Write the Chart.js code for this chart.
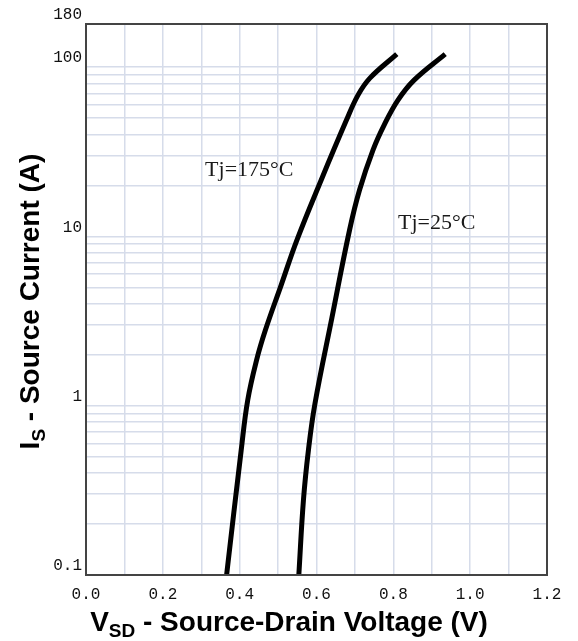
<!DOCTYPE html>
<html>
<head>
<title>Source-Drain Diode</title>
<style>
  body { margin: 0; background: #fff; }
  #wrap { width: 578px; height: 641px; }
</style>
</head>
<body>
<div id="wrap"><canvas id="diodeChart" width="578" height="641"></canvas></div>
<script src="https://cdn.jsdelivr.net/npm/chart.js"></script>
<script>
// curve: Tj = 175 C
const vsd175 = [0.366, 0.404, 0.421, 0.444, 0.467, 0.508, 0.549, 0.612, 0.678, 0.708, 0.739, 0.809];
const is175  = [0.1, 0.547, 1.08, 1.86, 2.80, 5.16, 9.52, 21.5, 48.7, 68.4, 86.2, 119.5];
// Tj = 25 C
const vsd25 = [0.554, 0.566, 0.579, 0.596, 0.640, 0.686, 0.712, 0.747, 0.776, 0.812, 0.854, 0.935];
const is25  = [0.1, 0.277, 0.547, 1.03, 3.30, 10.9, 18.8, 32.4, 45.5, 63.9, 83.9, 119.5];

const yTickValues = [0.1, 0.2, 0.3, 0.4, 0.5, 0.6, 0.7, 0.8, 0.9,
                     1, 2, 3, 4, 5, 6, 7, 8, 9,
                     10, 20, 30, 40, 50, 60, 70, 80, 90, 100, 180];
const yLabels = [0.1, 1, 10, 100, 180];

const curveLabels = [
  { text: 'Tj=175°C', v: 0.31, i: 22.7 },
  { text: 'Tj=25°C', v: 0.812, i: 11.1 }
];

function toPoints(xs, ys) {
  return xs.map((x, k) => ({ x: x, y: ys[k] }));
}

const gridColor = '#d6dcea';
const frameColor = '#444444';

// frame, curve labels and the two axis titles (they need subscripts)
const extras = {
  id: 'extras',
  afterDatasetsDraw(chart) {
    const ctx = chart.ctx;
    const a = chart.chartArea;
    const sx = chart.scales.x, sy = chart.scales.y;
    ctx.save();
    ctx.strokeStyle = frameColor;
    ctx.lineWidth = 2;
    ctx.strokeRect(a.left, a.top, a.right - a.left, a.bottom - a.top);

    ctx.fillStyle = '#1a1a1a';
    ctx.font = '22px "Liberation Serif"';
    ctx.textBaseline = 'alphabetic';
    ctx.textAlign = 'left';
    curveLabels.forEach(l => {
      ctx.fillText(l.text, sx.getPixelForValue(l.v), sy.getPixelForValue(l.i));
    });

    ctx.fillStyle = '#000';
    // x title
    const big = 'bold 28px "Liberation Sans"';
    const small = 'bold 19px "Liberation Sans"';
    ctx.font = big;
    const w1 = ctx.measureText('V').width;
    const w3 = ctx.measureText(' - Source-Drain Voltage (V)').width;
    ctx.font = small;
    const w2 = ctx.measureText('SD').width;
    let x0 = chart.width / 2 - (w1 + w2 + w3) / 2;
    const base = 631;
    ctx.font = big; ctx.fillText('V', x0, base);
    ctx.font = small; ctx.fillText('SD', x0 + w1, base + 6);
    ctx.font = big; ctx.fillText(' - Source-Drain Voltage (V)', x0 + w1 + w2, base);

    // y title
    ctx.translate(39, (a.top + a.bottom) / 2 + 2);
    ctx.rotate(-Math.PI / 2);
    ctx.font = big;
    const u1 = ctx.measureText('I').width;
    const u3 = ctx.measureText(' - Source Current (A)').width;
    ctx.font = small;
    const u2 = ctx.measureText('S').width;
    x0 = -(u1 + u2 + u3) / 2;
    ctx.font = big; ctx.fillText('I', x0, 0);
    ctx.font = small; ctx.fillText('S', x0 + u1, 6);
    ctx.font = big; ctx.fillText(' - Source Current (A)', x0 + u1 + u2, 0);
    ctx.restore();
  }
};

new Chart(document.getElementById('diodeChart'), {
  type: 'scatter',
  data: {
    datasets: [{
      label: 'Tj=175°C',
      data: toPoints(vsd175, is175),
      showLine: true,
      borderColor: '#000',
      borderWidth: 5,
      pointRadius: 0,
      tension: 0.4
    }, {
      label: 'Tj=25°C',
      data: toPoints(vsd25, is25),
      showLine: true,
      borderColor: '#000',
      borderWidth: 5,
      pointRadius: 0,
      tension: 0.4
    }]
  },
  options: {
    responsive: false,
    animation: false,
    layout: { padding: { left: 0, right: 31, top: 24, bottom: 0 } },
    plugins: {
      legend: { display: false },
      tooltip: { enabled: false }
    },
    scales: {
      x: {
        type: 'linear',
        min: 0,
        max: 1.2,
        afterFit: s => { s.height = 66; },
        grid: { color: gridColor, lineWidth: 1.5, drawTicks: false },
        border: { color: frameColor, width: 2 },
        ticks: {
          stepSize: 0.1,
          autoSkip: false,
          maxRotation: 0,
          padding: 10,
          color: '#111',
          font: { family: '"Liberation Mono"', size: 16 },
          callback: v => (Math.round(v * 10) % 2 === 0 ? v.toFixed(1) : '')
        }
      },
      y: {
        type: 'logarithmic',
        min: 0.1,
        max: 180,
        afterFit: s => { s.width = 86; },
        afterBuildTicks: s => { s.ticks = yTickValues.map(v => ({ value: v })); },
        grid: { color: gridColor, lineWidth: 1.5, drawTicks: false },
        border: { color: frameColor, width: 2 },
        ticks: {
          autoSkip: false,
          padding: 4,
          labelOffset: -9,
          color: '#111',
          font: { family: '"Liberation Mono"', size: 16 },
          callback: v => (yLabels.includes(v) ? String(v) : '')
        }
      }
    }
  },
  plugins: [extras]
});
</script>
</body>
</html>
